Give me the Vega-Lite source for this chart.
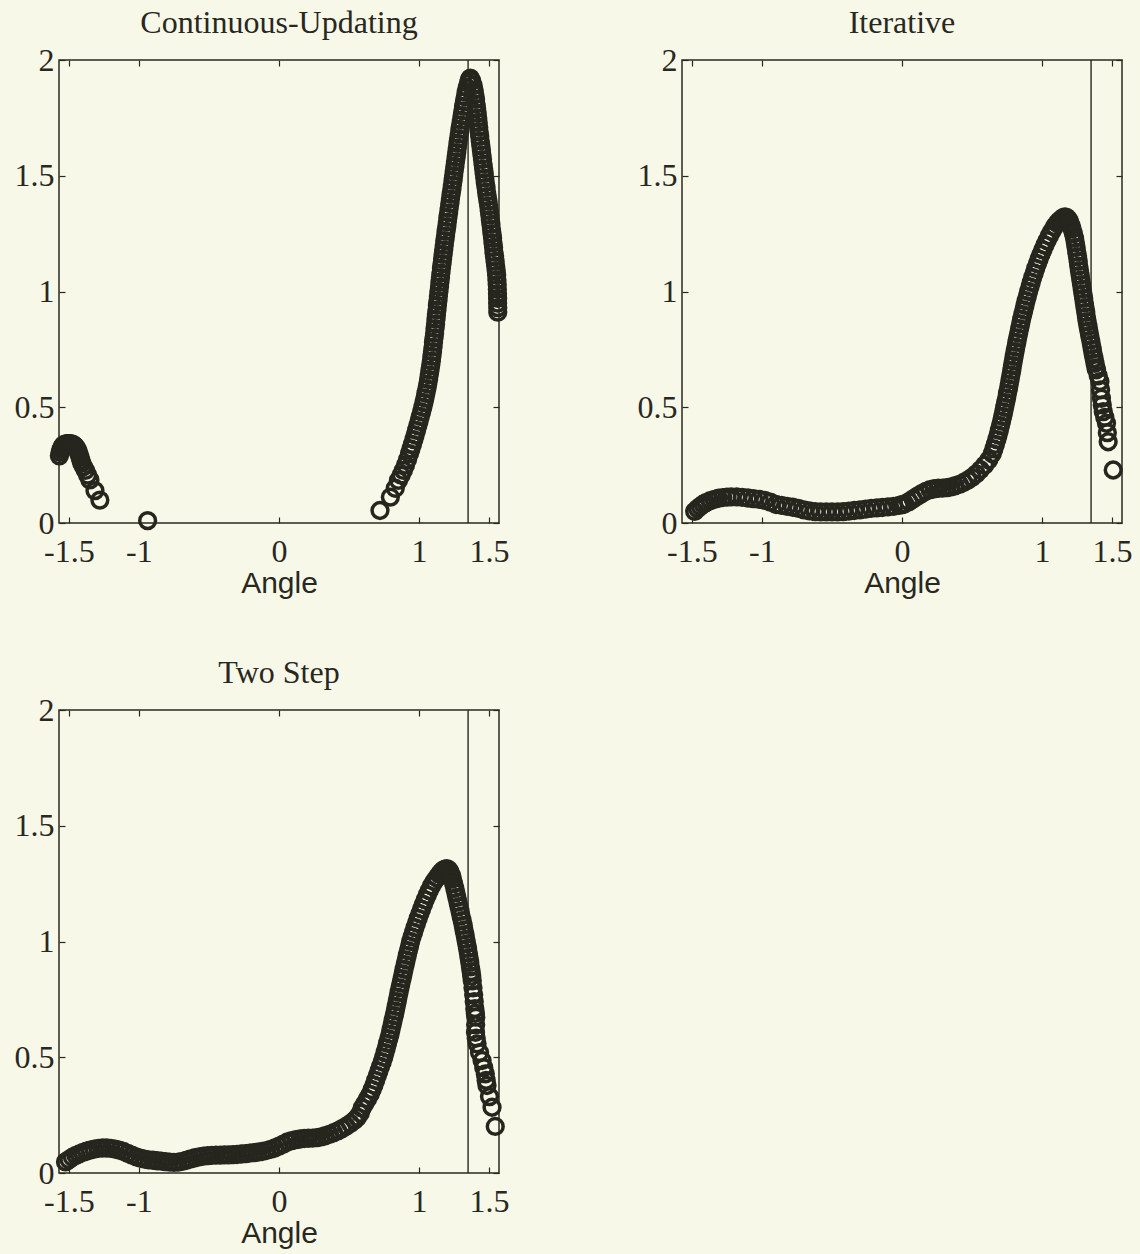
{
  "$schema": "https://vega.github.io/schema/vega-lite/v6.json",
  "background": "#f8f8e8",
  "padding": {"left": 13, "top": 6, "right": 12, "bottom": 18},
  "config": {
    "view": {"stroke": "#28281f", "strokeWidth": 1.5},
    "point": {"shape": "circle", "filled": false, "size": 250, "strokeWidth": 3.5, "color": "#26261e", "opacity": 1},
    "rule": {"color": "#28281f", "strokeWidth": 1.4},
    "axis": {"grid": false, "domain": false, "ticks": true, "tickSize": -6, "tickWidth": 1.2, "tickColor": "#28281f",
      "labelFont": "Liberation Serif", "labelFontSize": 32, "labelColor": "#28281f", "labelFlush": false, "labelOverlap": false, "labelBound": false,
      "titleFont": "Liberation Sans", "titleFontSize": 30, "titleFontWeight": "normal", "titleColor": "#28281f", "titlePadding": 1},
    "axisX": {"labelPadding": 19},
    "axisY": {"labelPadding": 11},
    "title": {"font": "Liberation Serif", "fontSize": 32, "fontWeight": "normal", "color": "#28281f", "offset": 0, "anchor": "middle"}
  },
  "datasets": {
    "A": [
      {"x":-1.568,"y":0.29},{"x":-1.562,"y":0.305},{"x":-1.556,"y":0.318},{"x":-1.549,"y":0.328},{"x":-1.541,"y":0.335},{"x":-1.532,"y":0.34},{"x":-1.522,"y":0.342},{"x":-1.512,"y":0.343},{"x":-1.502,"y":0.343},{"x":-1.492,"y":0.343},{"x":-1.482,"y":0.342},{"x":-1.472,"y":0.34},{"x":-1.463,"y":0.336},{"x":-1.455,"y":0.331},{"x":-1.447,"y":0.325},{"x":-1.44,"y":0.317},{"x":-1.433,"y":0.307},{"x":-1.426,"y":0.295},{"x":-1.42,"y":0.283},{"x":-1.414,"y":0.27},{"x":-1.408,"y":0.258},{"x":-1.396,"y":0.243},{"x":-1.382,"y":0.227},{"x":-1.366,"y":0.207},{"x":-1.35,"y":0.186},{"x":-1.314,"y":0.14},{"x":-1.279,"y":0.099},
      {"x":-0.938,"y":0.01},
      {"x":0.721,"y":0.054},{"x":0.795,"y":0.112},{"x":0.83,"y":0.15},{"x":0.853,"y":0.184},{"x":0.872,"y":0.207},{"x":0.888,"y":0.227},{"x":0.903,"y":0.25},{"x":0.918,"y":0.274},
      {"x":0.932,"y":0.30},{"x":0.942,"y":0.32},{"x":0.953,"y":0.34},{"x":0.963,"y":0.36},{"x":0.972,"y":0.38},{"x":0.982,"y":0.40},{"x":0.991,"y":0.42},{"x":1.0,"y":0.44},{"x":1.009,"y":0.46},{"x":1.018,"y":0.48},{"x":1.027,"y":0.50},{"x":1.035,"y":0.52},{"x":1.042,"y":0.54},{"x":1.049,"y":0.56},{"x":1.056,"y":0.58},{"x":1.062,"y":0.60},{"x":1.068,"y":0.62},{"x":1.073,"y":0.64},{"x":1.078,"y":0.66},{"x":1.083,"y":0.68},{"x":1.088,"y":0.70},{"x":1.092,"y":0.72},{"x":1.096,"y":0.74},{"x":1.1,"y":0.76},{"x":1.103,"y":0.78},{"x":1.107,"y":0.80},{"x":1.111,"y":0.82},{"x":1.114,"y":0.84},{"x":1.118,"y":0.86},{"x":1.121,"y":0.88},{"x":1.124,"y":0.90},{"x":1.128,"y":0.92},{"x":1.131,"y":0.94},{"x":1.135,"y":0.96},{"x":1.138,"y":0.98},{"x":1.142,"y":1.0},{"x":1.146,"y":1.02},{"x":1.149,"y":1.04},{"x":1.153,"y":1.06},{"x":1.156,"y":1.08},{"x":1.16,"y":1.1},{"x":1.164,"y":1.12},{"x":1.168,"y":1.14},{"x":1.172,"y":1.16},{"x":1.176,"y":1.18},{"x":1.18,"y":1.2},{"x":1.184,"y":1.22},{"x":1.189,"y":1.24},{"x":1.193,"y":1.26},{"x":1.198,"y":1.28},{"x":1.202,"y":1.3},{"x":1.206,"y":1.32},{"x":1.211,"y":1.34},{"x":1.215,"y":1.36},{"x":1.22,"y":1.38},{"x":1.224,"y":1.4},{"x":1.229,"y":1.42},{"x":1.234,"y":1.44},{"x":1.238,"y":1.46},{"x":1.243,"y":1.48},{"x":1.247,"y":1.5},{"x":1.251,"y":1.52},{"x":1.256,"y":1.54},{"x":1.26,"y":1.56},{"x":1.265,"y":1.58},{"x":1.269,"y":1.6},{"x":1.273,"y":1.62},{"x":1.278,"y":1.64},{"x":1.282,"y":1.66},{"x":1.287,"y":1.68},{"x":1.292,"y":1.7},{"x":1.297,"y":1.72},{"x":1.302,"y":1.74},{"x":1.308,"y":1.76},{"x":1.313,"y":1.78},{"x":1.318,"y":1.8},{"x":1.324,"y":1.82},{"x":1.33,"y":1.84},{"x":1.336,"y":1.86},{"x":1.343,"y":1.88},{"x":1.352,"y":1.9},{"x":1.36,"y":1.915},{"x":1.366,"y":1.922},
      {"x":1.376,"y":1.91},{"x":1.386,"y":1.89},{"x":1.393,"y":1.87},{"x":1.398,"y":1.85},{"x":1.403,"y":1.83},{"x":1.407,"y":1.81},{"x":1.411,"y":1.79},{"x":1.415,"y":1.77},{"x":1.419,"y":1.75},{"x":1.422,"y":1.73},{"x":1.426,"y":1.71},{"x":1.429,"y":1.69},{"x":1.433,"y":1.67},{"x":1.437,"y":1.65},{"x":1.441,"y":1.63},{"x":1.445,"y":1.61},{"x":1.449,"y":1.59},{"x":1.453,"y":1.57},{"x":1.457,"y":1.55},{"x":1.461,"y":1.53},{"x":1.465,"y":1.51},{"x":1.469,"y":1.49},{"x":1.473,"y":1.47},{"x":1.478,"y":1.45},{"x":1.482,"y":1.43},{"x":1.487,"y":1.41},{"x":1.492,"y":1.39},{"x":1.497,"y":1.37},{"x":1.501,"y":1.35},{"x":1.505,"y":1.33},{"x":1.509,"y":1.31},{"x":1.513,"y":1.29},{"x":1.517,"y":1.27},{"x":1.521,"y":1.25},{"x":1.525,"y":1.23},{"x":1.528,"y":1.21},{"x":1.532,"y":1.19},{"x":1.535,"y":1.17},{"x":1.539,"y":1.15},{"x":1.543,"y":1.13},{"x":1.547,"y":1.11},{"x":1.551,"y":1.09},{"x":1.554,"y":1.07},{"x":1.556,"y":1.05},{"x":1.558,"y":1.03},{"x":1.559,"y":1.01},{"x":1.56,"y":0.99},{"x":1.561,"y":0.97},{"x":1.561,"y":0.95},{"x":1.562,"y":0.93},{"x":1.562,"y":0.911}
    ],
    "B": [
      {"x":-1.48,"y":0.05},{"x":-1.46,"y":0.062},{"x":-1.44,"y":0.072},{"x":-1.42,"y":0.081},{"x":-1.4,"y":0.088},{"x":-1.37,"y":0.096},{"x":-1.34,"y":0.102},{"x":-1.31,"y":0.107},{"x":-1.28,"y":0.11},{"x":-1.25,"y":0.112},{"x":-1.22,"y":0.113},{"x":-1.18,"y":0.113},{"x":-1.14,"y":0.111},{"x":-1.1,"y":0.108},{"x":-1.06,"y":0.105},{"x":-1.02,"y":0.102},{"x":-0.98,"y":0.098},{"x":-0.94,"y":0.09},{"x":-0.9,"y":0.08},{"x":-0.86,"y":0.076},{"x":-0.82,"y":0.072},{"x":-0.78,"y":0.068},{"x":-0.74,"y":0.063},{"x":-0.7,"y":0.057},{"x":-0.66,"y":0.052},{"x":-0.62,"y":0.049},{"x":-0.58,"y":0.048},{"x":-0.54,"y":0.048},{"x":-0.5,"y":0.048},{"x":-0.46,"y":0.048},{"x":-0.42,"y":0.049},{"x":-0.38,"y":0.051},{"x":-0.34,"y":0.054},{"x":-0.3,"y":0.057},{"x":-0.26,"y":0.06},{"x":-0.22,"y":0.063},{"x":-0.18,"y":0.065},{"x":-0.14,"y":0.067},{"x":-0.1,"y":0.07},{"x":-0.06,"y":0.072},{"x":-0.02,"y":0.076},{"x":0.0,"y":0.079},
      {"x":0.02,"y":0.083},{"x":0.05,"y":0.092},{"x":0.08,"y":0.104},{"x":0.11,"y":0.116},{"x":0.14,"y":0.127},{"x":0.17,"y":0.137},{"x":0.2,"y":0.144},{"x":0.23,"y":0.148},{"x":0.26,"y":0.15},{"x":0.29,"y":0.151},{"x":0.32,"y":0.153},{"x":0.35,"y":0.156},{"x":0.38,"y":0.161},{"x":0.41,"y":0.167},{"x":0.44,"y":0.175},{"x":0.47,"y":0.185},{"x":0.5,"y":0.197},{"x":0.53,"y":0.212},{"x":0.56,"y":0.23},{"x":0.59,"y":0.25},{"x":0.62,"y":0.273},
      {"x":0.645,"y":0.3},{"x":0.656,"y":0.32},{"x":0.667,"y":0.34},{"x":0.677,"y":0.36},{"x":0.686,"y":0.38},{"x":0.695,"y":0.4},{"x":0.703,"y":0.42},{"x":0.711,"y":0.44},{"x":0.719,"y":0.46},{"x":0.726,"y":0.48},{"x":0.733,"y":0.5},{"x":0.74,"y":0.52},{"x":0.747,"y":0.54},{"x":0.753,"y":0.56},{"x":0.76,"y":0.58},{"x":0.766,"y":0.6},{"x":0.772,"y":0.62},{"x":0.778,"y":0.64},{"x":0.784,"y":0.66},{"x":0.789,"y":0.68},{"x":0.795,"y":0.7},{"x":0.801,"y":0.72},{"x":0.807,"y":0.74},{"x":0.813,"y":0.76},{"x":0.82,"y":0.78},{"x":0.826,"y":0.8},{"x":0.833,"y":0.82},{"x":0.84,"y":0.84},{"x":0.847,"y":0.86},{"x":0.854,"y":0.88},{"x":0.862,"y":0.9},{"x":0.87,"y":0.92},{"x":0.878,"y":0.94},{"x":0.886,"y":0.96},{"x":0.895,"y":0.98},{"x":0.904,"y":1.0},{"x":0.914,"y":1.02},{"x":0.923,"y":1.04},{"x":0.933,"y":1.06},{"x":0.944,"y":1.08},{"x":0.955,"y":1.1},{"x":0.967,"y":1.12},{"x":0.979,"y":1.14},{"x":0.992,"y":1.16},{"x":1.006,"y":1.18},{"x":1.02,"y":1.2},{"x":1.036,"y":1.22},{"x":1.052,"y":1.24},{"x":1.07,"y":1.26},{"x":1.09,"y":1.28},{"x":1.107,"y":1.295},{"x":1.123,"y":1.305},{"x":1.138,"y":1.313},{"x":1.15,"y":1.319},{"x":1.162,"y":1.322},
      {"x":1.175,"y":1.32},{"x":1.188,"y":1.312},{"x":1.198,"y":1.3},{"x":1.207,"y":1.285},{"x":1.215,"y":1.27},{"x":1.224,"y":1.25},{"x":1.232,"y":1.23},{"x":1.238,"y":1.21},{"x":1.243,"y":1.19},{"x":1.248,"y":1.17},{"x":1.253,"y":1.15},{"x":1.258,"y":1.13},{"x":1.262,"y":1.11},{"x":1.267,"y":1.09},{"x":1.272,"y":1.07},{"x":1.277,"y":1.05},{"x":1.282,"y":1.03},{"x":1.287,"y":1.01},{"x":1.292,"y":0.99},{"x":1.297,"y":0.97},{"x":1.302,"y":0.95},{"x":1.307,"y":0.93},{"x":1.312,"y":0.91},{"x":1.317,"y":0.89},{"x":1.322,"y":0.87},{"x":1.328,"y":0.85},{"x":1.334,"y":0.83},{"x":1.34,"y":0.81},{"x":1.347,"y":0.79},{"x":1.353,"y":0.77},{"x":1.359,"y":0.75},{"x":1.365,"y":0.73},{"x":1.372,"y":0.71},{"x":1.378,"y":0.69},{"x":1.385,"y":0.67},
      {"x":1.389,"y":0.662},{"x":1.401,"y":0.636},{"x":1.413,"y":0.611},{"x":1.418,"y":0.575},{"x":1.424,"y":0.539},{"x":1.43,"y":0.51},{"x":1.437,"y":0.481},{"x":1.448,"y":0.456},{"x":1.46,"y":0.431},{"x":1.466,"y":0.39},{"x":1.472,"y":0.351},{"x":1.508,"y":0.229}
    ],
    "C": [
      {"x":-1.524,"y":0.048},{"x":-1.5,"y":0.058},{"x":-1.475,"y":0.068},{"x":-1.45,"y":0.076},{"x":-1.425,"y":0.083},{"x":-1.4,"y":0.089},{"x":-1.375,"y":0.094},{"x":-1.35,"y":0.099},{"x":-1.32,"y":0.103},{"x":-1.29,"y":0.106},{"x":-1.26,"y":0.108},{"x":-1.23,"y":0.108},{"x":-1.2,"y":0.106},{"x":-1.17,"y":0.103},{"x":-1.14,"y":0.099},{"x":-1.11,"y":0.093},{"x":-1.08,"y":0.085},{"x":-1.05,"y":0.077},{"x":-1.02,"y":0.07},{"x":-0.99,"y":0.064},{"x":-0.96,"y":0.06},{"x":-0.93,"y":0.057},{"x":-0.9,"y":0.055},{"x":-0.87,"y":0.053},{"x":-0.84,"y":0.051},{"x":-0.81,"y":0.049},{"x":-0.78,"y":0.047},{"x":-0.75,"y":0.046},{"x":-0.72,"y":0.047},{"x":-0.69,"y":0.05},{"x":-0.66,"y":0.055},{"x":-0.63,"y":0.061},{"x":-0.6,"y":0.066},{"x":-0.57,"y":0.07},{"x":-0.54,"y":0.073},{"x":-0.51,"y":0.075},{"x":-0.48,"y":0.076},{"x":-0.45,"y":0.077},{"x":-0.42,"y":0.077},{"x":-0.39,"y":0.078},{"x":-0.36,"y":0.078},{"x":-0.33,"y":0.079},{"x":-0.3,"y":0.08},{"x":-0.27,"y":0.082},{"x":-0.24,"y":0.084},{"x":-0.21,"y":0.086},{"x":-0.18,"y":0.088},{"x":-0.15,"y":0.09},{"x":-0.12,"y":0.093},{"x":-0.09,"y":0.097},{"x":-0.06,"y":0.102},{"x":-0.03,"y":0.108},{"x":0.0,"y":0.116},{"x":0.03,"y":0.125},{"x":0.06,"y":0.134},{"x":0.09,"y":0.14},{"x":0.12,"y":0.144},{"x":0.15,"y":0.147},{"x":0.18,"y":0.149},{"x":0.21,"y":0.15},{"x":0.24,"y":0.151},{"x":0.27,"y":0.153},{"x":0.3,"y":0.156},{"x":0.33,"y":0.161},{"x":0.36,"y":0.167},{"x":0.39,"y":0.174},{"x":0.42,"y":0.182},{"x":0.45,"y":0.192},{"x":0.48,"y":0.202},{"x":0.51,"y":0.214},{"x":0.54,"y":0.228},{"x":0.56,"y":0.24},{"x":0.58,"y":0.258},
      {"x":0.593,"y":0.28},{"x":0.613,"y":0.3},{"x":0.632,"y":0.32},{"x":0.651,"y":0.34},{"x":0.665,"y":0.36},{"x":0.678,"y":0.38},{"x":0.69,"y":0.4},{"x":0.702,"y":0.42},{"x":0.713,"y":0.44},{"x":0.725,"y":0.46},{"x":0.737,"y":0.48},{"x":0.748,"y":0.5},{"x":0.757,"y":0.52},{"x":0.766,"y":0.54},{"x":0.775,"y":0.56},{"x":0.784,"y":0.58},{"x":0.793,"y":0.6},{"x":0.8,"y":0.62},{"x":0.808,"y":0.64},{"x":0.815,"y":0.66},{"x":0.823,"y":0.68},{"x":0.83,"y":0.7},{"x":0.837,"y":0.72},{"x":0.844,"y":0.74},{"x":0.85,"y":0.76},{"x":0.857,"y":0.78},{"x":0.864,"y":0.8},{"x":0.871,"y":0.82},{"x":0.879,"y":0.84},{"x":0.886,"y":0.86},{"x":0.893,"y":0.88},{"x":0.901,"y":0.9},{"x":0.908,"y":0.92},{"x":0.916,"y":0.94},{"x":0.924,"y":0.96},{"x":0.932,"y":0.98},{"x":0.94,"y":1.0},{"x":0.95,"y":1.02},{"x":0.961,"y":1.04},{"x":0.971,"y":1.06},{"x":0.982,"y":1.08},{"x":0.994,"y":1.1},{"x":1.006,"y":1.12},{"x":1.018,"y":1.14},{"x":1.031,"y":1.16},{"x":1.044,"y":1.18},{"x":1.058,"y":1.2},{"x":1.073,"y":1.22},{"x":1.089,"y":1.24},{"x":1.109,"y":1.26},{"x":1.127,"y":1.275},{"x":1.145,"y":1.29},{"x":1.158,"y":1.3},{"x":1.172,"y":1.308},{"x":1.185,"y":1.313},{"x":1.198,"y":1.315},
      {"x":1.212,"y":1.31},{"x":1.222,"y":1.3},{"x":1.232,"y":1.285},{"x":1.239,"y":1.27},{"x":1.247,"y":1.25},{"x":1.255,"y":1.23},{"x":1.263,"y":1.21},{"x":1.27,"y":1.19},{"x":1.278,"y":1.17},{"x":1.285,"y":1.15},{"x":1.293,"y":1.13},{"x":1.3,"y":1.11},{"x":1.308,"y":1.09},{"x":1.315,"y":1.07},{"x":1.321,"y":1.05},{"x":1.328,"y":1.03},{"x":1.334,"y":1.01},{"x":1.34,"y":0.99},{"x":1.346,"y":0.97},{"x":1.352,"y":0.95},{"x":1.357,"y":0.93},{"x":1.362,"y":0.91},{"x":1.367,"y":0.89},{"x":1.372,"y":0.87},{"x":1.376,"y":0.85},{"x":1.38,"y":0.83},{"x":1.385,"y":0.8},{"x":1.39,"y":0.77},{"x":1.394,"y":0.74},{"x":1.398,"y":0.71},{"x":1.402,"y":0.69},{"x":1.405,"y":0.673},
      {"x":1.404,"y":0.64},{"x":1.403,"y":0.608},{"x":1.408,"y":0.583},{"x":1.414,"y":0.558},{"x":1.432,"y":0.52},{"x":1.45,"y":0.486},{"x":1.462,"y":0.455},{"x":1.473,"y":0.428},{"x":1.479,"y":0.4},{"x":1.485,"y":0.378},{"x":1.503,"y":0.33},{"x":1.521,"y":0.284},{"x":1.544,"y":0.201}
    ],
    "ref": [{"x": 1.35, "y": 0, "y2": 2}]
  },
  "bounds": "flush",
  "columns": 2,
  "spacing": {"row": 187, "column": 183},
  "concat": [
    {
      "width": 440, "height": 463,
      "title": {"text": "Continuous-Updating"},
      "resolve": {"axis": {"x": "independent", "y": "independent"}},
      "layer": [
        {"data": {"name": "A"}, "mark": {"type": "point"},
         "encoding": {
           "x": {"field": "x", "type": "quantitative", "scale": {"domain": [-1.5708, 1.5708], "nice": false, "zero": false}, "axis": {"values": [-1.5, -1, 0, 1, 1.5], "labelExpr": "'' + datum.value", "title": "Angle"}},
           "y": {"field": "y", "type": "quantitative", "scale": {"domain": [0, 2], "nice": false, "zero": false}, "axis": {"values": [0, 0.5, 1, 1.5, 2], "labelExpr": "'' + datum.value", "title": null}}}},
        {"data": {"name": "ref"}, "mark": {"type": "rule"},
         "encoding": {
           "x": {"field": "x", "type": "quantitative", "axis": {"orient": "top", "labels": false, "title": null, "values": [-1.5, -1, 0, 1, 1.5]}},
           "y": {"field": "y", "type": "quantitative", "axis": {"orient": "right", "labels": false, "title": null, "values": [0, 0.5, 1, 1.5, 2]}},
           "y2": {"field": "y2"}}}
      ]
    },
    {
      "width": 440, "height": 463,
      "title": {"text": "Iterative"},
      "resolve": {"axis": {"x": "independent", "y": "independent"}},
      "layer": [
        {"data": {"name": "B"}, "mark": {"type": "point"},
         "encoding": {
           "x": {"field": "x", "type": "quantitative", "scale": {"domain": [-1.5708, 1.5708], "nice": false, "zero": false}, "axis": {"values": [-1.5, -1, 0, 1, 1.5], "labelExpr": "'' + datum.value", "title": "Angle"}},
           "y": {"field": "y", "type": "quantitative", "scale": {"domain": [0, 2], "nice": false, "zero": false}, "axis": {"values": [0, 0.5, 1, 1.5, 2], "labelExpr": "'' + datum.value", "title": null}}}},
        {"data": {"name": "ref"}, "mark": {"type": "rule"},
         "encoding": {
           "x": {"field": "x", "type": "quantitative", "axis": {"orient": "top", "labels": false, "title": null, "values": [-1.5, -1, 0, 1, 1.5]}},
           "y": {"field": "y", "type": "quantitative", "axis": {"orient": "right", "labels": false, "title": null, "values": [0, 0.5, 1, 1.5, 2]}},
           "y2": {"field": "y2"}}}
      ]
    },
    {
      "width": 440, "height": 463,
      "title": {"text": "Two Step"},
      "resolve": {"axis": {"x": "independent", "y": "independent"}},
      "layer": [
        {"data": {"name": "C"}, "mark": {"type": "point"},
         "encoding": {
           "x": {"field": "x", "type": "quantitative", "scale": {"domain": [-1.5708, 1.5708], "nice": false, "zero": false}, "axis": {"values": [-1.5, -1, 0, 1, 1.5], "labelExpr": "'' + datum.value", "title": "Angle"}},
           "y": {"field": "y", "type": "quantitative", "scale": {"domain": [0, 2], "nice": false, "zero": false}, "axis": {"values": [0, 0.5, 1, 1.5, 2], "labelExpr": "'' + datum.value", "title": null}}}},
        {"data": {"name": "ref"}, "mark": {"type": "rule"},
         "encoding": {
           "x": {"field": "x", "type": "quantitative", "axis": {"orient": "top", "labels": false, "title": null, "values": [-1.5, -1, 0, 1, 1.5]}},
           "y": {"field": "y", "type": "quantitative", "axis": {"orient": "right", "labels": false, "title": null, "values": [0, 0.5, 1, 1.5, 2]}},
           "y2": {"field": "y2"}}}
      ]
    }
  ]
}
